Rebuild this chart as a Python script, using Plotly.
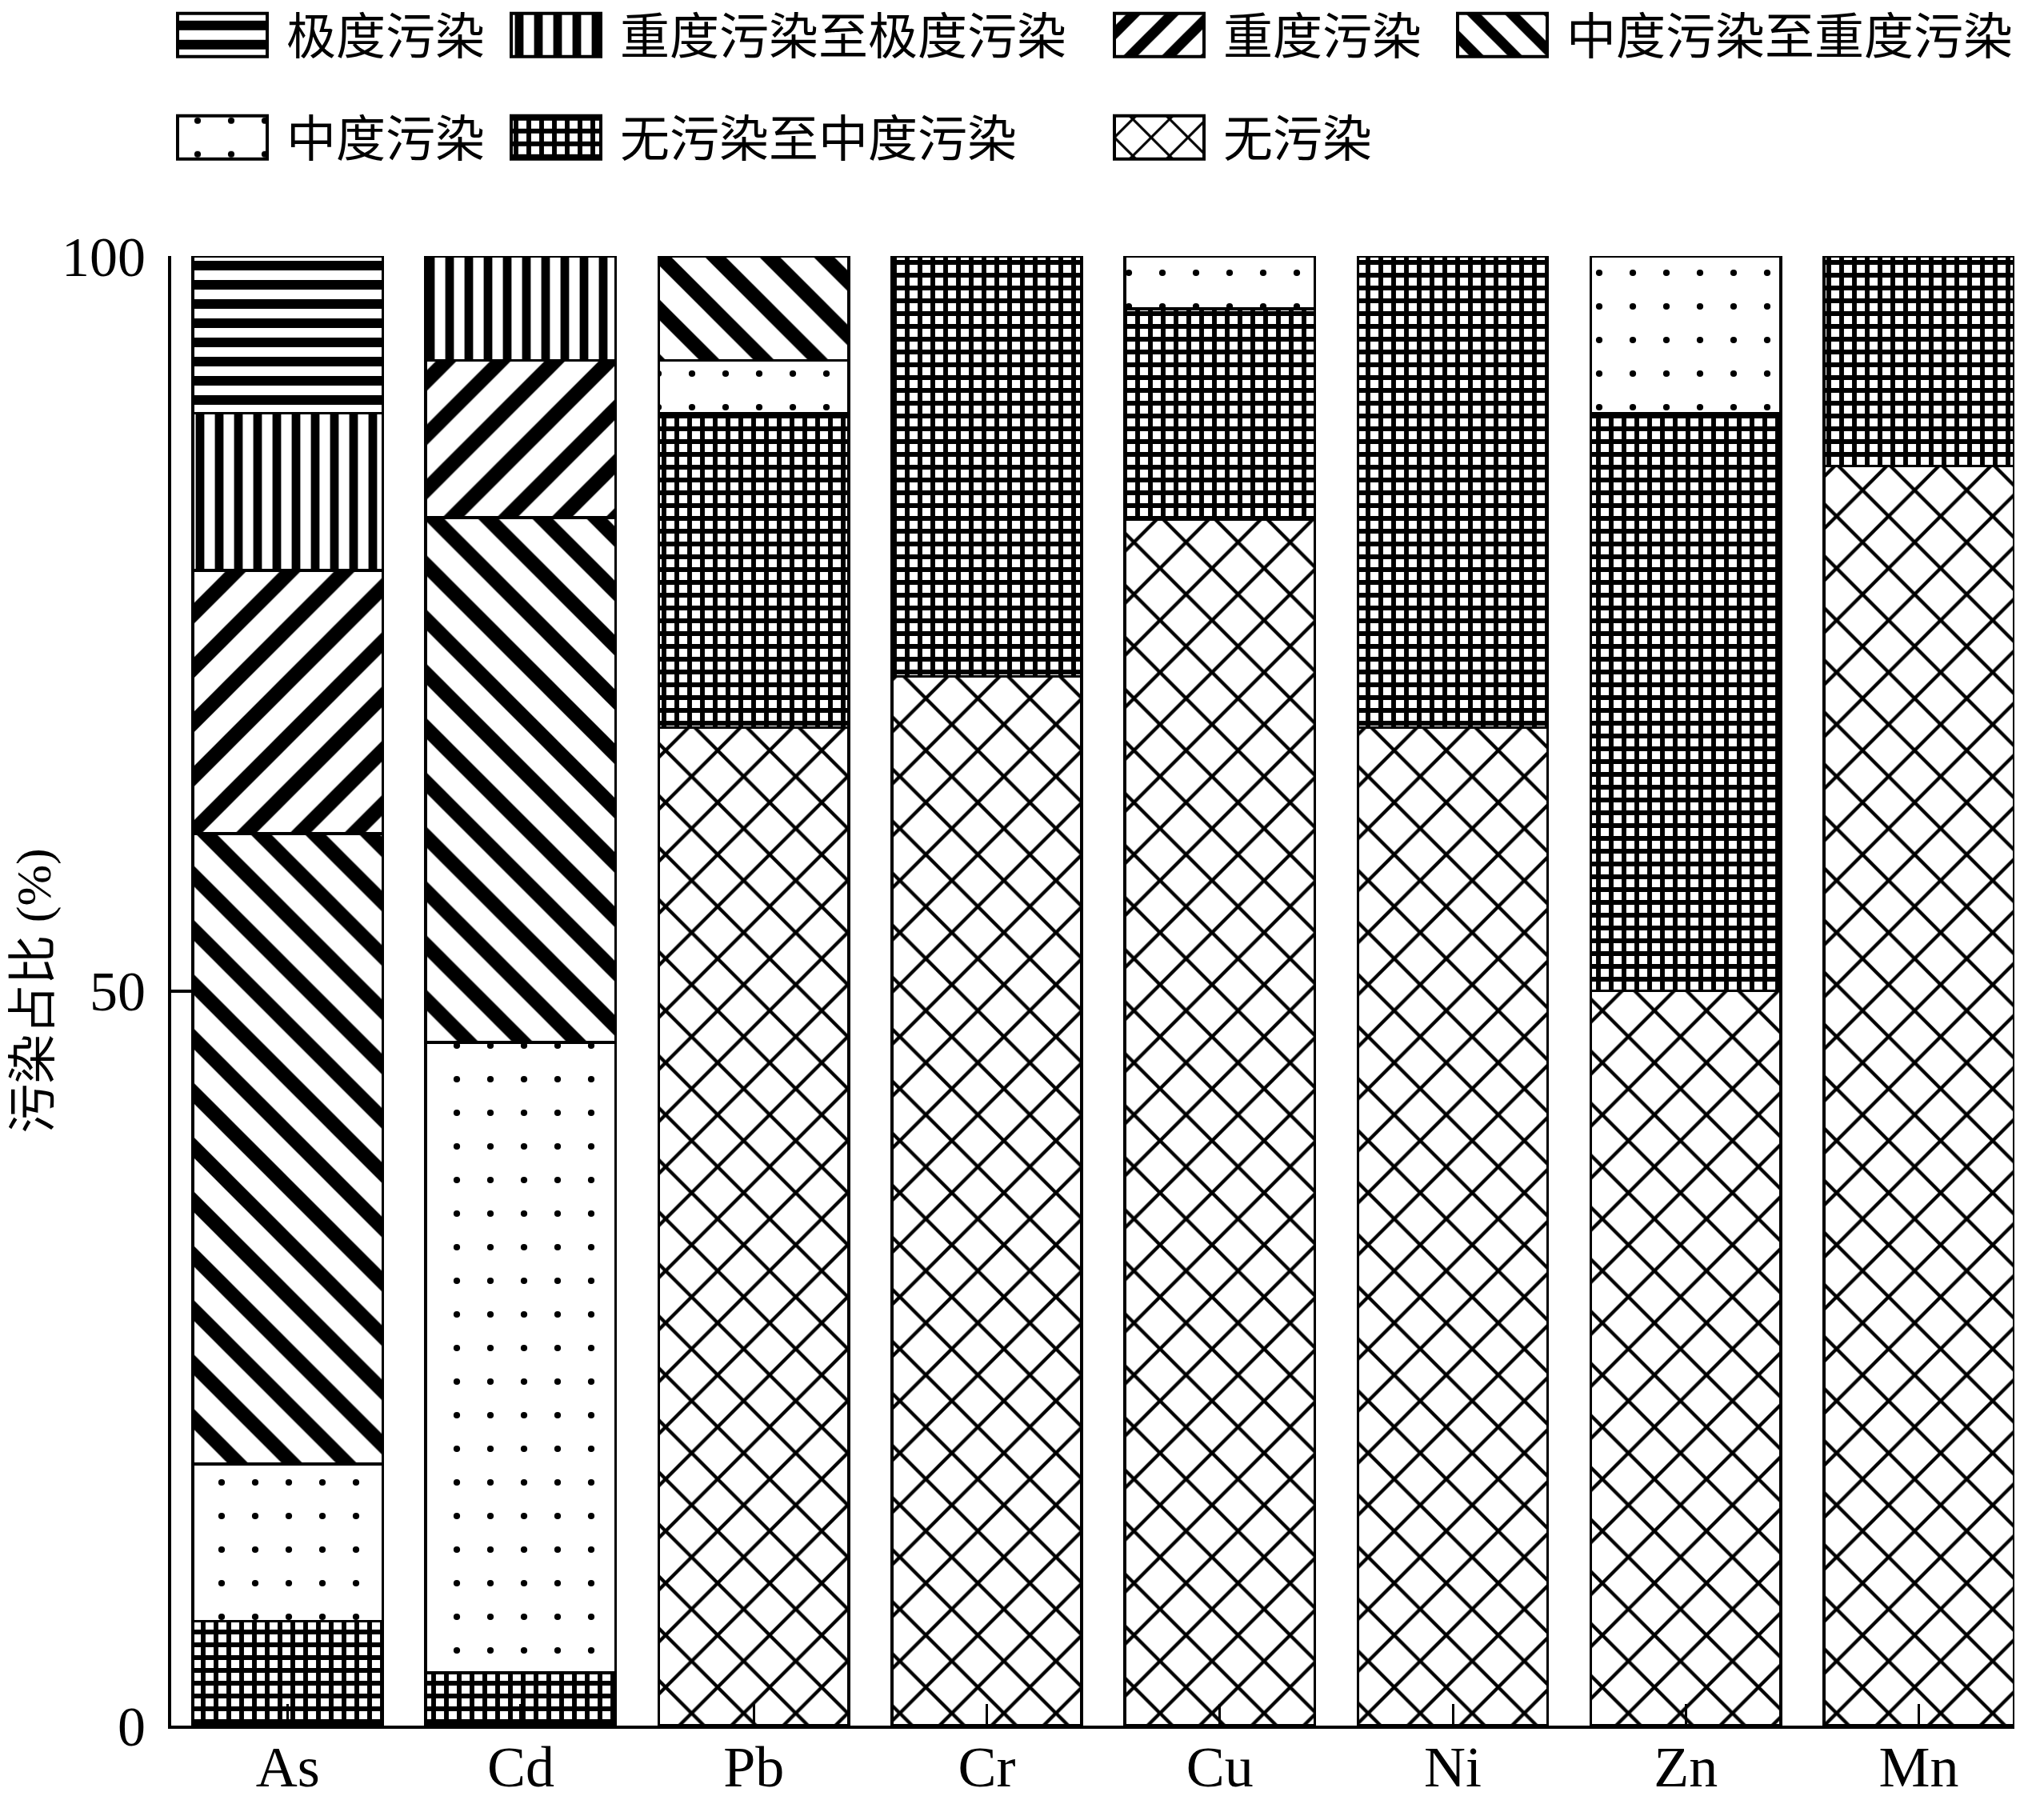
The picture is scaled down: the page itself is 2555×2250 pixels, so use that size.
import plotly.graph_objects as go

elements = ["As", "Cd", "Pb", "Cr", "Cu", "Ni", "Zn", "Mn"]

# percentage of samples in each pollution class (bottom -> top of stack)
none_pct      = [0.0, 0.0, 67.9, 71.4, 82.1, 67.9, 50.0, 85.7]   # 无污染
none_mod_pct  = [7.1, 3.6, 21.4, 28.6, 14.3, 32.1, 39.3, 14.3]   # 无污染至中度污染
mod_pct       = [10.7, 42.9, 3.6, 0.0, 3.6, 0.0, 10.7, 0.0]      # 中度污染
mod_heavy_pct = [42.9, 35.7, 7.1, 0.0, 0.0, 0.0, 0.0, 0.0]       # 中度污染至重度污染
heavy_pct     = [17.9, 10.7, 0.0, 0.0, 0.0, 0.0, 0.0, 0.0]       # 重度污染
heavy_ext_pct = [10.7, 7.1, 0.0, 0.0, 0.0, 0.0, 0.0, 0.0]        # 重度污染至极度污染
extreme_pct   = [10.7, 0.0, 0.0, 0.0, 0.0, 0.0, 0.0, 0.0]        # 极度污染

y_ticks = [0, 50, 100]

series = [
    ("无污染", none_pct, "x", 46, 0.18, "legend7"),
    ("无污染至中度污染", none_mod_pct, "+", 16, 0.6, "legend6"),
    ("中度污染", mod_pct, ".", 42, 0.03, "legend5"),
    ("中度污染至重度污染", mod_heavy_pct, "\\", 48, 0.38, "legend4"),
    ("重度污染", heavy_pct, "/", 48, 0.38, "legend3"),
    ("重度污染至极度污染", heavy_ext_pct, "|", 24, 0.45, "legend2"),
    ("极度污染", extreme_pct, "-", 24, 0.5, "legend"),
]

FONT = "Liberation Serif, Noto Sans CJK SC, serif"

fig = go.Figure()
for name, vals, shape, size, sol, leg in series:
    fig.add_trace(go.Bar(
        x=elements,
        y=[v if v > 0 else None for v in vals],
        name=name,
        legend=leg,
        marker=dict(
            color="white",
            line=dict(color="black", width=3.5),
            pattern=dict(shape=shape, size=size, solidity=sol,
                         fgcolor="black", bgcolor="white", fgopacity=1,
                         fillmode="replace"),
        ),
        hoverinfo="skip",
    ))

# the page body adds an 8px offset, so margins are shifted by 8px
W, H = 2555, 2250
ML, MR, MT, MB = 206, 45, 312, 101
pw = W - ML - MR
ph = H - MT - MB

def px_x(px):
    return (px - ML) / pw

def px_y(py):
    return (H - MB - py) / ph

leg_common = dict(orientation="h", xanchor="left", yanchor="middle",
                  bgcolor="rgba(0,0,0,0)", borderwidth=0,
                  font=dict(family=FONT, size=62, color="black"),
                  itemwidth=170)

text_cols = [355, 772, 1526, 1955]
row_y = [36, 164]
legend_pos = {
    "legend": (text_cols[0], row_y[0]),
    "legend2": (text_cols[1], row_y[0]),
    "legend3": (text_cols[2], row_y[0]),
    "legend4": (text_cols[3], row_y[0]),
    "legend5": (text_cols[0], row_y[1]),
    "legend6": (text_cols[1], row_y[1]),
    "legend7": (text_cols[2], row_y[1]),
}
legends = {}
for key, (tx, ty) in legend_pos.items():
    legends[key] = dict(leg_common, x=px_x(tx - 185), y=px_y(ty))

fig.update_layout(
    width=W, height=H,
    margin=dict(l=ML, r=MR, t=MT, b=MB, autoexpand=False),
    barmode="stack",
    bargap=0.185,
    plot_bgcolor="white",
    paper_bgcolor="white",
    font=dict(family=FONT, color="black"),
    showlegend=True,
    **legends,
)

fig.update_xaxes(
    range=[-0.5, 7.41],
    showline=True, linecolor="black", linewidth=4, mirror=False,
    ticks="inside", ticklen=27, tickwidth=3, tickcolor="black",
    tickfont=dict(family=FONT, size=72, color="black"),
    ticklabelstandoff=-14,
    showgrid=False, zeroline=False,
)
fig.update_yaxes(
    range=[0, 100],
    tickvals=y_ticks,
    showline=True, linecolor="black", linewidth=4, mirror=False,
    ticks="inside", ticklen=28, tickwidth=4, tickcolor="black",
    tickfont=dict(family=FONT, size=70, color="black"),
    ticklabelstandoff=14,
    showgrid=False, zeroline=False,
    title=dict(text="污染占比 (%)", font=dict(family=FONT, size=62, color="black"),
               standoff=20),
)

# enlarge the legend swatches to the reference's box size and
# show their patterns at the same scale as the bars
post = """
var gd = document.getElementById('{plot_id}');
function bigSwatch(){
  gd.querySelectorAll('.legendpoints path').forEach(function(p){
    p.setAttribute('d','M66,27H-46V-27H66Z');
    p.style.strokeWidth = '4px';
    p.style.stroke = 'rgb(0,0,0)';
    try {
      var want = p.__data__[0].trace.marker.pattern.size;
      var f = p.style.fill || p.getAttribute('fill') || '';
      var m = f.match(/#([^'")]+)/);
      if (m && want) {
        var pat = document.getElementById(m[1]);
        if (pat) {
          var w = parseFloat(pat.getAttribute('width'));
          if (w > 0) pat.setAttribute('patternTransform', 'scale(' + (want / w) + ')');
        }
      }
    } catch (e) {}
  });
}
bigSwatch();
setTimeout(bigSwatch, 50);
setTimeout(bigSwatch, 300);
gd.on('plotly_afterplot', function(){ setTimeout(bigSwatch, 0); });
"""

fig.write_html("out.html", post_script=post)
